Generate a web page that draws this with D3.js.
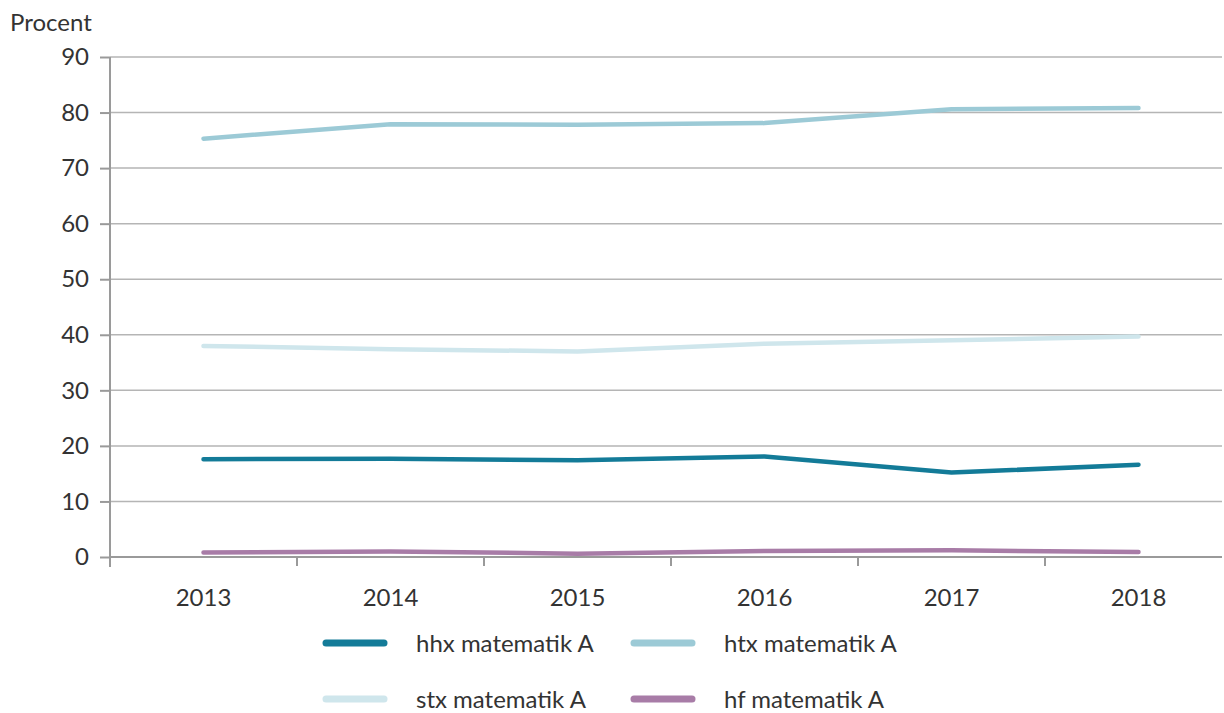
<!DOCTYPE html>
<html>
<head>
<meta charset="utf-8">
<script src="https://cdn.jsdelivr.net/npm/d3@7"></script>
<style>
  body { margin: 0; background: #fff; }
  svg text { font-family: Lato, "Open Sans", sans-serif; fill: #333; }
</style>
</head>
<body>
<svg id="chart" width="1224" height="713"></svg>
<script>
const years = ["2013", "2014", "2015", "2016", "2017", "2018"];
const hhx = [17.6, 17.7, 17.4, 18.1, 15.2, 16.6];
const htx = [75.3, 77.9, 77.8, 78.1, 80.6, 80.8];
const stx = [38.0, 37.4, 37.0, 38.4, 39.0, 39.7];
const hf  = [0.8, 1.0, 0.6, 1.1, 1.2, 0.9];
const yTicks = [0, 10, 20, 30, 40, 50, 60, 70, 80, 90];

const series = [
  {name: "hhx matematik A", values: hhx, color: "#137b98"},
  {name: "htx matematik A", values: htx, color: "#9ccad6"},
  {name: "stx matematik A", values: stx, color: "#cfe6ec"},
  {name: "hf matematik A",  values: hf,  color: "#a87ca7"}
];

const svg = d3.select("#chart");
const mLeft = 110, mRight = 1222, mTop = 57, mBottom = 557;
const fs = 24;

const x = d3.scaleBand().domain(years).range([mLeft, mLeft + 6 * 187]);
const y = d3.scaleLinear().domain([0, 90]).range([mBottom, mTop]);

// gridlines
svg.append("g").selectAll("line").data(yTicks.filter(d => d > 0))
  .join("line")
  .attr("x1", mLeft).attr("x2", mRight)
  .attr("y1", d => y(d)).attr("y2", d => y(d))
  .attr("stroke", "#b5b5b5").attr("stroke-width", 1.5);

// y axis
const ya = svg.append("g").attr("transform", `translate(${mLeft},0)`)
  .call(d3.axisLeft(y).tickValues(yTicks).tickSize(10).tickPadding(11));
ya.select(".domain").attr("stroke", "#9a9a9a").attr("stroke-width", 2)
  .attr("d", `M0,${mTop}V${mBottom + 10}`);
ya.selectAll(".tick line").attr("stroke", "#9a9a9a").attr("stroke-width", 2);
ya.selectAll(".tick text").attr("font-size", fs).style("fill", "#333")
  .style("font-family", "Lato, sans-serif");

// x axis
const xa = svg.append("g").attr("transform", `translate(0,${mBottom})`);
xa.append("line").attr("x1", mLeft).attr("x2", mRight)
  .attr("stroke", "#9a9a9a").attr("stroke-width", 2);
xa.selectAll(".xt").data(years.slice(1)).join("line")
  .attr("class", "xt")
  .attr("x1", d => x(d)).attr("x2", d => x(d))
  .attr("y1", 0).attr("y2", 9)
  .attr("stroke", "#9a9a9a").attr("stroke-width", 2);
xa.selectAll(".xl").data(years).join("text")
  .attr("class", "xl")
  .attr("x", d => x(d) + x.bandwidth() / 2)
  .attr("y", 49)
  .attr("text-anchor", "middle")
  .attr("font-size", fs)
  .text(d => d);

svg.append("text").attr("x", 10).attr("y", 31)
  .attr("font-size", fs).text("Procent");

// lines
const line = d3.line()
  .x((d, i) => x(years[i]) + x.bandwidth() / 2)
  .y(d => y(d));

svg.append("g").selectAll("path").data(series).join("path")
  .attr("d", d => line(d.values))
  .attr("fill", "none")
  .attr("stroke", d => d.color)
  .attr("stroke-width", 4.5)
  .attr("stroke-linecap", "round")
  .attr("stroke-linejoin", "round");

// legend
const leg = svg.append("g").selectAll("g").data(series).join("g")
  .attr("transform", (d, i) => `translate(${i % 2 ? 634 : 326},${i < 2 ? 643 : 699})`);
leg.append("line").attr("x1", 0).attr("x2", 58)
  .attr("stroke", d => d.color).attr("stroke-width", 7)
  .attr("stroke-linecap", "round");
leg.append("text").attr("x", 90).attr("y", 9)
  .attr("font-size", fs).text(d => d.name);
</script>
</body>
</html>
